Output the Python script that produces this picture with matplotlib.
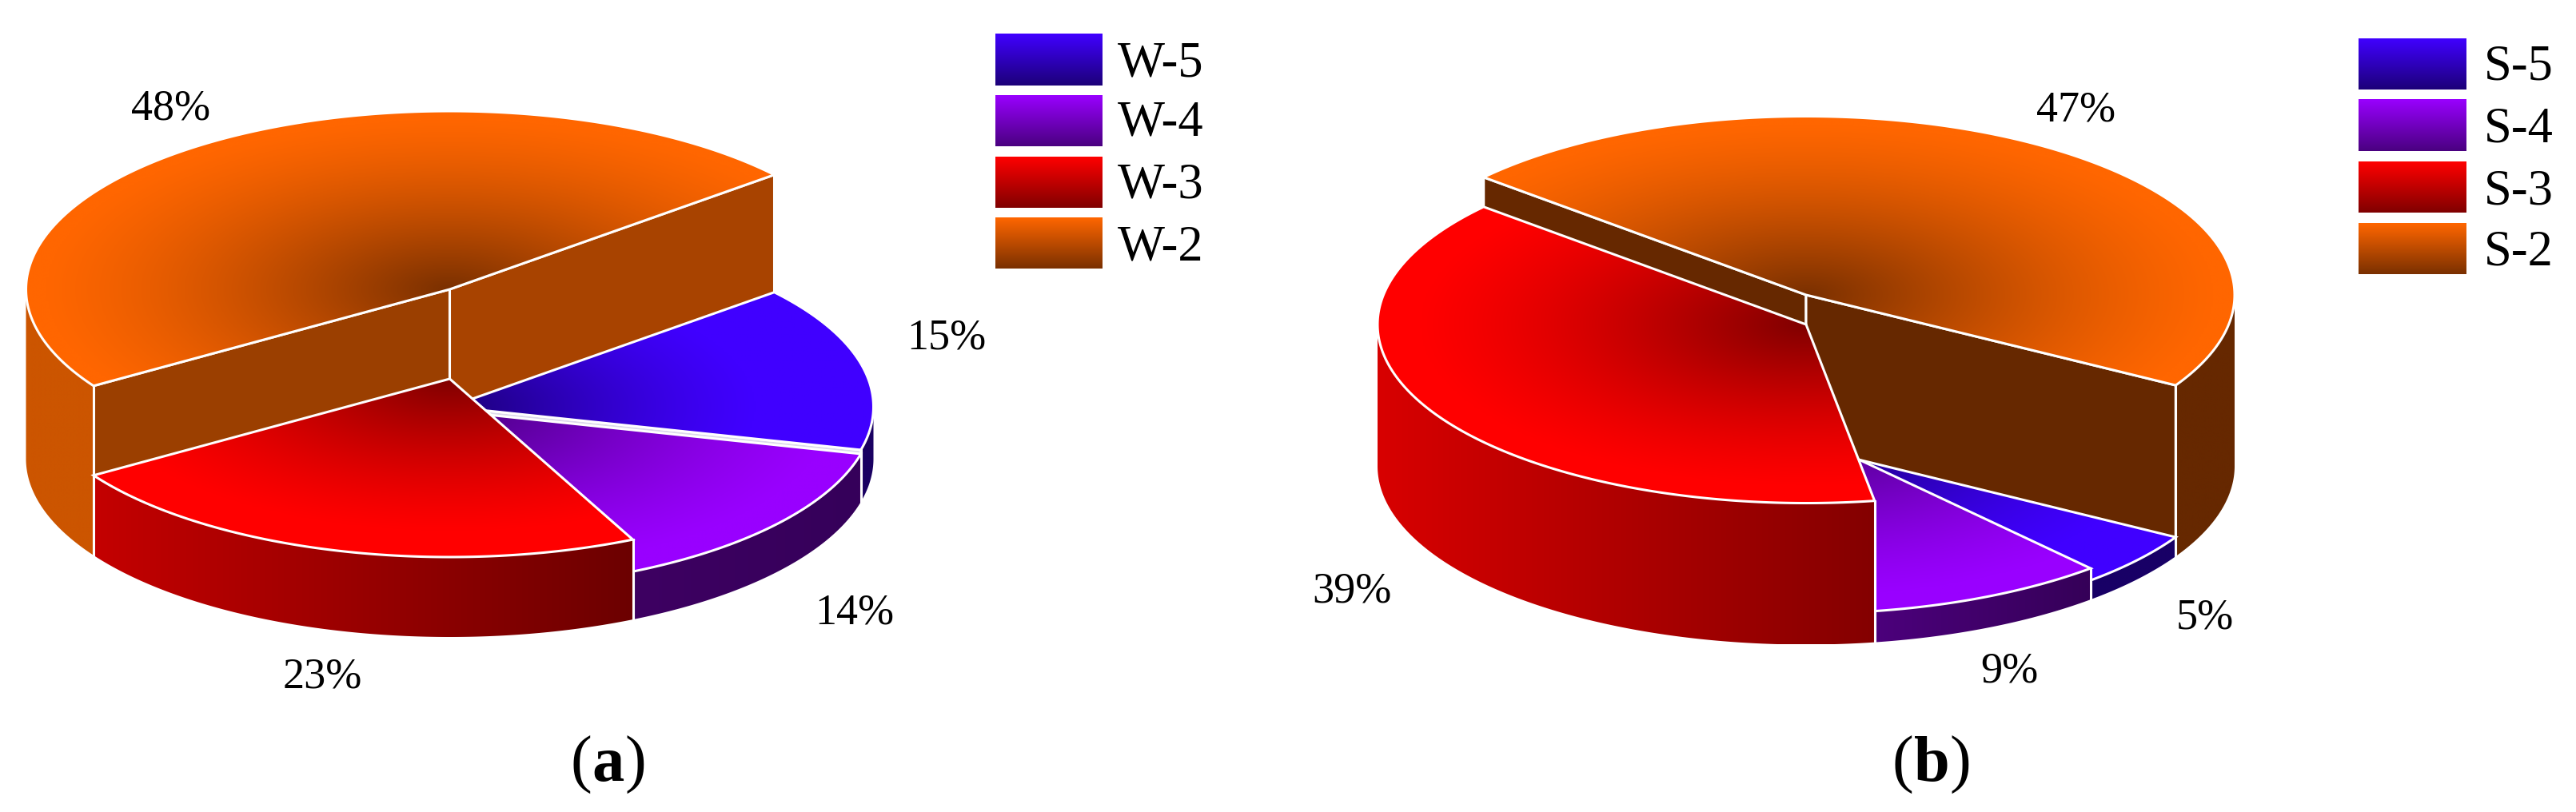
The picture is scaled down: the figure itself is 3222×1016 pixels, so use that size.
import numpy as np
import matplotlib
matplotlib.use('Agg')
import matplotlib.pyplot as plt
from matplotlib.patches import Polygon

plt.rcParams['font.family'] = ['Liberation Serif', 'DejaVu Sans']

# ============ DATA ============
LABELS_A = ['W-5', 'W-4', 'W-3', 'W-2']
LABELS_B = ['S-5', 'S-4', 'S-3', 'S-2']
SHARES_A = [15, 14, 23, 48]
SHARES_B = [5, 9, 39, 47]

# ============ STYLE ============
BRIGHT = ['#4000FF', '#9900FF', '#FF0000', '#FF6600']
DARK = ['#1C0078', '#4A0080', '#800000', '#7A3000']

# height of each slice above the base, px
HEIGHTS_A = [65, 60, 100, 212]
HEIGHTS_B = [24, 39, 177, 214]

# outer wall colours (left end, right end)
WALLS_A = [('#1A0062', '#1A0062'), ('#3E0062', '#35005A'), ('#C40000', '#6C0000'), ('#CC5500', '#CC5500')]
WALLS_B = [('#180066', '#180066'), ('#4C007C', '#350058'), ('#D80000', '#840000'), ('#662800', '#662800')]
# colour of the cut faces
FACES_A = ['#DCD8EC', '#35005A', '#800000', ('#9B3F00', '#A84300')]
FACES_B = ['#180066', '#35005A', '#800000', ('#662800', '#662800')]

W, H = 3223, 1016
EDGE = 2.2

fig = plt.figure(figsize=(W / 100, H / 100), dpi=100)
ax = fig.add_axes([0, 0, 1, 1])
ax.set_xlim(0, W)
ax.set_ylim(H, 0)
ax.axis('off')

z = [2]


def next_z():
    z[0] += 1
    return z[0]


def rgb(c):
    return np.array(matplotlib.colors.to_rgb(c))


def fill_image(arr, extent, poly):
    # gradient image clipped to a polygon
    zz = next_z()
    im = ax.imshow(arr, extent=extent, aspect='auto', zorder=zz, interpolation='bilinear')
    patch = Polygon(poly, closed=True, transform=ax.transData, facecolor='none', edgecolor='none')
    ax.add_patch(patch)
    im.set_clip_path(patch)
    ax.set_xlim(0, W)
    ax.set_ylim(H, 0)


def arc(cx, cy, a, b, t1, t2):
    t = np.radians(np.linspace(t1, t2, 200))
    return np.column_stack([cx + a * np.cos(t), cy - b * np.sin(t)])


def draw_top(cx, cy, a, b, t1, t2, bright, dark, reach):
    pts = np.vstack([[cx, cy], arc(cx, cy, a, b, t1, t2)])
    x0, x1 = cx - a, cx + a
    y0, y1 = cy - b, cy + b
    gx, gy = np.meshgrid(np.linspace(-1, 1, 500), np.linspace(-1, 1, 500))
    r = np.clip(np.sqrt(gx ** 2 + gy ** 2) / reach, 0, 1)[..., None]
    # eased so no ring shows where the gradient stops
    r = 0.5 * r + 0.5 * np.sin(r * np.pi / 2)
    arr = rgb(dark) * (1 - r) + rgb(bright) * r
    fill_image(arr, (x0, x1, y1, y0), pts)
    ax.add_patch(Polygon(pts, closed=True, facecolor='none', edgecolor='white', lw=EDGE, zorder=next_z(), joinstyle='miter'))


def draw_wall(cx, base, a, b, t1, t2, height, colors):
    # only the part in front is visible: angles -180..0 (mod 360)
    lo, hi = min(t1, t2), max(t1, t2)
    for k in range(-2, 2):
        s, e = max(lo, -180 + 360 * k), min(hi, 360 * k)
        if e <= s:
            continue
        top = arc(cx, base - height, a, b, s, e)
        bottom = arc(cx, base, a, b, e, s)
        pts = np.vstack([top, bottom])
        x0, x1 = pts[:, 0].min(), pts[:, 0].max()
        y0, y1 = pts[:, 1].min(), pts[:, 1].max()
        g = np.linspace(0, 1, 256)[None, :, None]
        arr = rgb(colors[0]) * (1 - g) + rgb(colors[1]) * g
        fill_image(arr, (x0, x1, y1, y0), pts)
        for t in (s, e):
            if t not in (-180 + 360 * k, 360 * k):
                p = arc(cx, base, a, b, t, t)[0]
                ax.plot([p[0], p[0]], [p[1] - height, p[1]], color='white', lw=EDGE, zorder=next_z())


def draw_face(cx, base, a, b, t, normal, height, color):
    if np.sin(np.radians(normal)) >= 0:
        return
    p = arc(cx, base, a, b, t, t)[0]
    pts = [(cx, base - height), (p[0], p[1] - height), (p[0], p[1]), (cx, base)]
    ax.add_patch(Polygon(pts, closed=True, facecolor=color, edgecolor='white', lw=EDGE, zorder=next_z(), joinstyle='miter'))


def draw_pie(cx, base, a, b, shares, heights, start, walls, faces, reach):
    ends = start - np.cumsum(shares) * 3.6
    starts = np.concatenate([[start], ends[:-1]])
    # tallest slice (last) goes first, its top last of all
    i = len(shares) - 1
    draw_face(cx, base, a, b, starts[i], starts[i] + 90, heights[i], faces[i][0])
    draw_face(cx, base, a, b, ends[i], ends[i] - 90, heights[i], faces[i][1])
    draw_wall(cx, base, a, b, starts[i], ends[i], heights[i], walls[i])
    for j in range(len(shares) - 1):
        draw_wall(cx, base, a, b, starts[j], ends[j], heights[j], walls[j])
        draw_face(cx, base, a, b, ends[j], ends[j] - 90, heights[j], faces[j])
        draw_top(cx, base - heights[j], a, b, starts[j], ends[j], BRIGHT[j], DARK[j], reach[j])
    draw_top(cx, base - heights[i], a, b, starts[i], ends[i], BRIGHT[i], DARK[i], reach[i])


def draw_legend(x0, x1, tops, bottoms, labels, tx, baselines):
    for k, lab in enumerate(labels):
        g = np.linspace(0, 1, 128)[:, None, None]
        arr = rgb(BRIGHT[k]) * (1 - g) + rgb(DARK[k]) * g
        ax.imshow(arr, extent=(x0, x1, bottoms[k], tops[k]), aspect='auto', zorder=5)
        ax.text(tx, baselines[k], lab, fontsize=45, va='baseline', ha='left', color='black')
    ax.set_xlim(0, W)
    ax.set_ylim(H, 0)


def caption(x, y, letter):
    t1 = ax.text(x, y, '(', fontsize=58, va='baseline', ha='left', color='black')
    t2 = ax.annotate(letter, xy=(1, 0), xycoords=t1, fontsize=58, va='bottom', ha='left', fontweight='bold', color='black')
    ax.annotate(')', xy=(1, 0), xycoords=t2, fontsize=58, va='bottom', ha='left', color='black')


# ============ PLOTTING ============
draw_pie(562.5, 574, 530, 223, SHARES_A, HEIGHTS_A, 40, WALLS_A, FACES_A, [0.72, 0.9, 0.85, 0.95])
draw_pie(2259, 583, 536, 223.5, SHARES_B, HEIGHTS_B, -30.4, WALLS_B, FACES_B, [0.8, 0.9, 0.9, 0.95])

draw_legend(1245, 1379, [42, 119, 196, 272], [107, 183, 260, 336], LABELS_A, 1398, [95, 170, 248, 325])
draw_legend(2950, 3085, [48, 124, 202, 279], [112, 189, 266, 343], LABELS_B, 3107, [100, 177, 255, 332])

pos_a = [(1184, 423), (1069, 767), (403, 847), (214, 136)]
pos_b = [(2758, 773), (2513, 840), (1691, 740), (2597, 138)]
for shares, pos in ((SHARES_A, pos_a), (SHARES_B, pos_b)):
    for s, p in zip(shares, pos):
        ax.text(p[0], p[1], f'{s}%', fontsize=39, ha='center', va='center', color='black')

caption(714, 977, 'a')
caption(2367, 977, 'b')

plt.savefig('out.png', dpi=100)
